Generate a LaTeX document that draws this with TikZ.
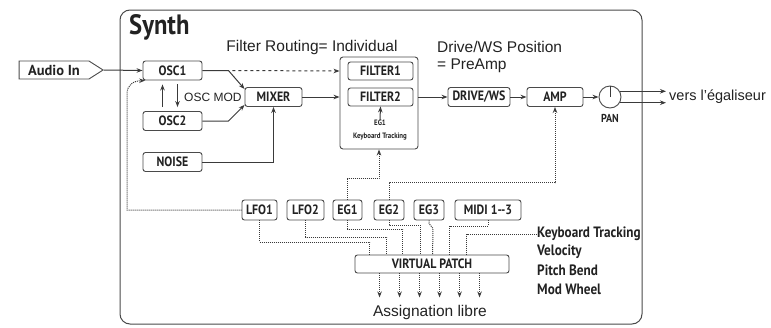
\documentclass[tikz,border=0pt]{standalone}
\usepackage{fontspec}
\setmainfont{Liberation Sans}
\newfontfamily\lblfont{PT Sans}[FakeStretch=0.88]
\newfontfamily\widelblfont{PT Sans}
\usetikzlibrary{arrows.meta,shapes.symbols,calc}

\definecolor{wiregray}{HTML}{3A3A3A}
\definecolor{boxgray}{HTML}{4A4A4A}
\definecolor{txtgray}{HTML}{222222}

\tikzset{
  line/.style={draw=wiregray, line width=1pt},
  wire/.style={line, -{Stealth[length=6pt,width=4.5pt]}},
  modwire/.style={wire, densely dotted},
  modline/.style={line, densely dotted},
  unit/.style={draw=boxgray, line width=0.9pt, rounded corners=2.5pt, fill=white,
    minimum height=19pt, inner sep=1pt, text=txtgray,
    font=\lblfont\bfseries\fontsize{13.5}{14}\selectfont},
  caption/.style={text=txtgray, inner sep=0pt, font=\fontsize{15.5}{16}\selectfont},
  side/.style={text=txtgray, inner sep=0pt, anchor=west,
    font=\lblfont\bfseries\fontsize{15}{16}\selectfont},
  tiny/.style={text=txtgray, inner sep=0pt, font=\lblfont\bfseries\fontsize{7.8}{8}\selectfont}
}

\begin{document}
\begin{tikzpicture}[x=1pt, y=-1pt]
  \useasboundingbox (0,0) rectangle (771,327);
  % synth frame
  \draw[draw=boxgray, line width=1pt, rounded corners=10pt] (120,10) rectangle (642,324);
  \node[text=txtgray, anchor=west, inner sep=0pt,
    font=\lblfont\bfseries\fontsize{28}{29}\selectfont] (synth) at (129,27) {Synth};

  % texts
  \node[caption] (routing) at (312,47) {Filter Routing= Individual};
  \node[caption, anchor=west] (drvpos) at (437,47) {Drive/WS Position};
  \node[caption, anchor=west] (preamp) at (437,66) {= PreAmp};
  \node[caption, anchor=west, font=\fontsize{12}{13}\selectfont] (oscmod) at (184,97) {OSC MOD};

  % audio input
  \node[draw=boxgray, line width=0.9pt, shape=signal, signal to=east, signal pointer angle=65,
    minimum width=84pt, minimum height=18pt, inner sep=1pt, text=txtgray,
    font=\widelblfont\bfseries\fontsize{14.5}{15}\selectfont] (audio) at (54,70) {Audio In\hspace{13pt}};

  % sources
  \node[unit, minimum width=59pt] (osc1) at (172.5,70.5) {OSC1};
  \node[unit, minimum width=59pt] (osc2) at (172.5,121) {OSC2};
  \node[unit, minimum width=59pt] (noise) at (172.5,162) {NOISE};
  \node[unit, minimum width=57pt] (mixer) at (273.5,97) {MIXER};

  % filters
  \node[draw=boxgray, line width=0.9pt, rounded corners=3pt, minimum width=78pt,
    minimum height=92pt] (filt) at (379,103) {};
  \node[unit, minimum width=65pt, minimum height=18pt] (filter1) at (380.5,71) {FILTER1};
  \node[unit, minimum width=65pt, minimum height=18pt] (filter2) at (380.5,97) {FILTER2};
  \node[tiny] (fegone) at (380,123) {EG1};
  \node[tiny] (fkbd) at (380,137) {Keyboard Tracking};

  % output chain
  \node[unit, minimum width=62pt] (drive) at (479,97) {DRIVE/WS};
  \node[unit, minimum width=56pt] (amp) at (555,97) {AMP};
  \node[draw=boxgray, line width=0.9pt, circle, minimum size=22pt, inner sep=0pt] (pan) at (610,97) {};
  \node[tiny, font=\lblfont\bfseries\fontsize{11.5}{12}\selectfont] (panlbl) at (610,118) {PAN};
  \node[caption, anchor=west, font=\fontsize{14.5}{15}\selectfont] (vers) at (669,97) {vers l'égaliseur};

  % modulators
  \node[unit, minimum width=35pt, minimum height=20pt] (lfo1) at (259.5,210) {LFO1};
  \node[unit, minimum width=37pt, minimum height=20pt] (lfo2) at (305.5,210) {LFO2};
  \node[unit, minimum width=29pt, minimum height=20pt] (eg1) at (347.5,210) {EG1};
  \node[unit, minimum width=30pt, minimum height=20pt] (eg2) at (389,210) {EG2};
  \node[unit, minimum width=30pt, minimum height=20pt] (eg3) at (429,210) {EG3};
  \node[unit, minimum width=66pt, minimum height=20pt] (midi) at (488,210) {MIDI 1--3};
  \node[unit, minimum width=154pt, minimum height=18pt] (vpatch) at (432,264) {VIRTUAL PATCH};

  % side labels
  \node[side] (kbdtrk) at (537,234) {Keyboard Tracking};
  \node[side] (velo) at (537,252) {Velocity};
  \node[side] (pbend) at (537,270) {Pitch Bend};
  \node[side] (mwheel) at (537,289) {Mod Wheel};
  \node[caption] (assign) at (430,312) {Assignation libre};

  % audio path
  \coordinate (split) at ($(osc1.east)+(26,0)$);
  \coordinate (join) at ($(osc2.east)+(26,0)$);
  \draw[wire] (audio.east) -- (osc1.west);
  \draw[wire] (osc1.east) -- (split) -- ([yshift=-2pt]mixer.north west);
  \draw[wire] (osc2.east) -- (join) -- ([yshift=2pt]mixer.south west);
  \draw[wire] (noise.east) -| (mixer.south);
  \draw[wire, dashed] ([xshift=4pt]split) -- (filt.west |- filter1.west);
  \draw[wire] (mixer.east) -- (filt.west |- mixer.east);
  \draw[wire] (fegone.north) -- (filter2.south);
  \draw[wire] (filt.east |- drive.west) -- (drive.west);
  \draw[wire] (drive.east) -- (amp.west);
  \draw[wire] (amp.east) -- (pan.west);
  \draw[line] (pan.center) -- (pan.north);
  \draw[wire, shorten >=3pt] (pan.30) -- (pan.30 -| vers.west);
  \draw[wire, shorten >=3pt] (pan.-30) -- (pan.-30 -| vers.west);
  % osc mod
  \draw[wire, shorten <=4pt, shorten >=4pt] ([xshift=-10pt]osc2.north) -- ([xshift=-10pt]osc1.south);
  \draw[wire, shorten <=4pt, shorten >=4pt] ([xshift=5pt]osc1.south) -- ([xshift=5pt]osc2.north);

  % modulation routing
  \draw[modwire] (lfo1.west) -- (127,210) -- (127,94) .. controls (127,85) and (133,81) .. (osc1.200);
  \draw[modwire] (eg1.north) -- ++(0,-21) -| (filt.south);
  \draw[modwire] (eg2.north) -- ++(0,-17) -| (amp.south);

  % into virtual patch
  \draw[modline] (lfo1.south) -- ++(0,22) -| ([xshift=15pt]vpatch.north west);
  \draw[modline] (lfo2.south) -- ++(0,17) -| ([xshift=32pt]vpatch.north west);
  \draw[modline] (eg1.south) -- ++(0,9) -| ([xshift=48pt]vpatch.north west);
  \draw[modline] (eg2.south) -- ++(0,5) -| ([xshift=66pt]vpatch.north west);
  \draw[modline] (eg3.south) -- ++(0,3) -- ++(4,5) -- ([xshift=78pt]vpatch.north west);
  \draw[modline] (midi.south) -- ++(0,6) -| ([xshift=95pt]vpatch.north west);
  \draw[modline] (kbdtrk.west) -| ([xshift=112pt]vpatch.north west);

  % free outputs
  \foreach \dx in {25,45,...,125}
    \draw[modwire] ([xshift=\dx pt]vpatch.south west) -- ++(0,24);
\end{tikzpicture}
\end{document}
